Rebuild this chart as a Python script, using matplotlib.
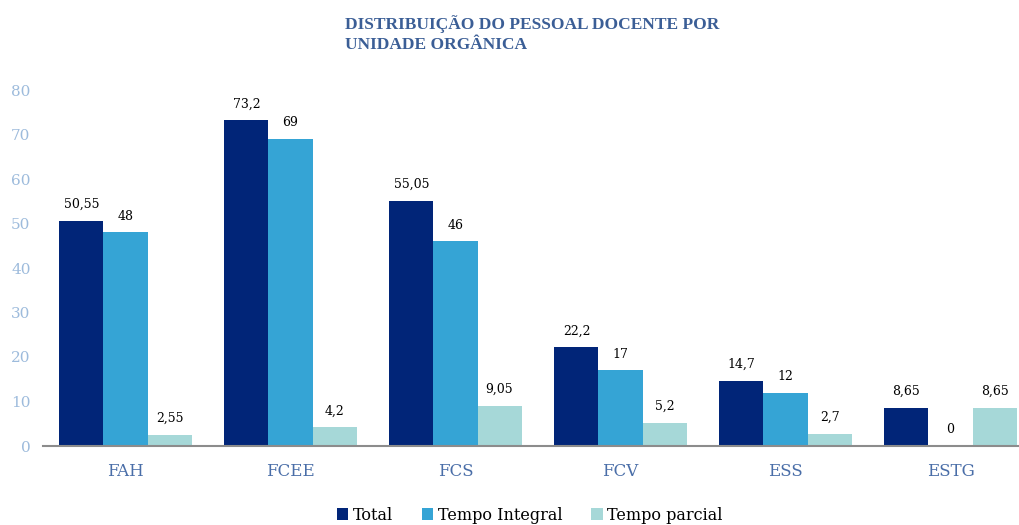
import numpy as np
import matplotlib.pyplot as plt

categories = ['FAH', 'FCEE', 'FCS', 'FCV', 'ESS', 'ESTG']
total = [50.55, 73.2, 55.05, 22.2, 14.7, 8.65]
integral = [48, 69, 46, 17, 12, 0]
parcial = [2.55, 4.2, 9.05, 5.2, 2.7, 8.65]
series = [('Total', total, '#012578'),
          ('Tempo Integral', integral, '#35a4d5'),
          ('Tempo parcial', parcial, '#a6d8d8')]

plt.rcParams['font.family'] = ['DejaVu Serif']

fig = plt.figure(figsize=(10.19, 5.25), dpi=100)
# axes runs a little past the right edge, as in the original crop
ax = fig.add_axes([43 / 1019, 79 / 525, 990 / 1019, 356 / 525])

x = np.arange(len(categories))
w = 0.267
for i, (name, vals, col) in enumerate(series):
    pos = x + (i - 1) * w
    ax.bar(pos, vals, width=w, color=col, label=name)
    for p, v in zip(pos, vals):
        txt = ('%g' % v).replace('.', ',')
        ax.text(p, v + 2.2, txt, ha='center', va='bottom', fontsize=9, color='black')

ax.set_xlim(-0.5, len(categories) - 0.5)
ax.set_ylim(0, 80)
ax.set_yticks(range(0, 81, 10))
ax.set_xticks(x)
ax.set_xticklabels(categories, fontsize=12, color='#4a6ea8')
ax.tick_params(axis='y', length=0, labelcolor='#9dbbdc', labelsize=11, pad=9)
ax.tick_params(axis='x', length=0, pad=12)
for s in ['top', 'right', 'left']:
    ax.spines[s].set_visible(False)
ax.spines['bottom'].set_color('#8c8c8c')
ax.spines['bottom'].set_linewidth(1.5)

fig.text(345 / 1019, 1 - 15 / 525, 'DISTRIBUIÇÃO DO PESSOAL DOCENTE POR\nUNIDADE ORGÂNICA',
         ha='left', va='top', fontsize=12.5, fontweight='bold', color='#3b5e96',
         family='Liberation Serif', linespacing=1.3)

fig.legend(loc='center', bbox_to_anchor=(530 / 1019, 1 - 515 / 525), ncol=3,
           frameon=False, fontsize=11.5, handlelength=0.7, handleheight=0.7,
           handletextpad=0.3, columnspacing=1.8)

fig.savefig('out.png', dpi=100)
